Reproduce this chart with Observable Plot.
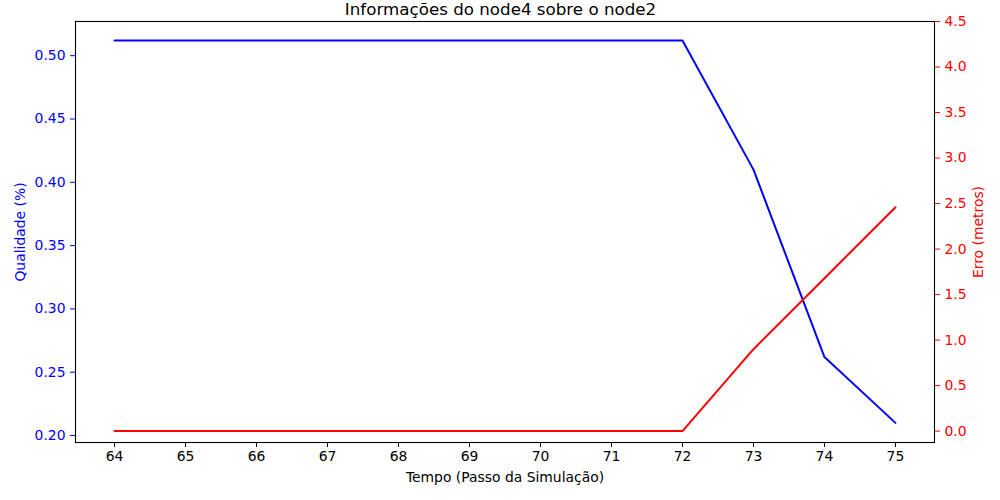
<!DOCTYPE html>
<html>
<head>
<meta charset="utf-8">
<script src="https://cdn.jsdelivr.net/npm/d3@7"></script>
<script src="https://cdn.jsdelivr.net/npm/@observablehq/plot@0.6"></script>
<style>
html,body{margin:0;padding:0;background:#fff;}
svg{font-family:"DejaVu Sans",sans-serif;}
</style>
</head>
<body>
<div id="chart"></div>
<script>
const tempo = [64, 65, 66, 67, 68, 69, 70, 71, 72, 73, 74, 75];
const qualidade = [0.512, 0.512, 0.512, 0.512, 0.512, 0.512, 0.512, 0.512, 0.512, 0.41, 0.262, 0.21];
const erro = [0, 0, 0, 0, 0, 0, 0, 0, 0, 0.9, 1.68, 2.46];
const xTicks = [64, 65, 66, 67, 68, 69, 70, 71, 72, 73, 74, 75];
const leftTicks = [0.20, 0.25, 0.30, 0.35, 0.40, 0.45, 0.50];
const rightTicks = [0.0, 0.5, 1.0, 1.5, 2.0, 2.5, 3.0, 3.5, 4.0, 4.5];

const titleText = "Informações do node4 sobre o node2";
const xLabel = "Tempo (Passo da Simulação)";
const leftLabel = "Qualidade (%)";
const rightLabel = "Erro (metros)";

const yDom = [0.1945, 0.527];
const rDom = [-0.125, 4.5];
const r2y = v => yDom[0] + (v - rDom[0]) * (yDom[1] - yDom[0]) / (rDom[1] - rDom[0]);
const y2r = v => rDom[0] + (v - yDom[0]) * (rDom[1] - rDom[0]) / (yDom[1] - yDom[0]);

const blueData = tempo.map((t, i) => ({t, v: qualidade[i]}));
const redData = tempo.map((t, i) => ({t, v: r2y(erro[i])}));

const fs = 13.9;
const chart = Plot.plot({
  width: 1000,
  height: 500,
  marginLeft: 75,
  marginRight: 66,
  marginTop: 21,
  marginBottom: 58,
  style: {fontFamily: "DejaVu Sans, sans-serif", fontSize: fs + "px", background: "#fff", overflow: "visible"},
  x: {domain: [63.45, 75.55]},
  y: {domain: yDom},
  marks: [
    Plot.axisX(xTicks, {tickSize: 5, tickPadding: 4, tickFormat: d => String(d), fontSize: fs, label: null, stroke: "#000", color: "#000"}),
    Plot.axisY(leftTicks, {anchor: "left", tickSize: 5, tickPadding: 5, tickFormat: d => d.toFixed(2), fontSize: fs, label: null, stroke: "blue", fill: "blue"}),
    Plot.axisY(rightTicks.map(r2y), {anchor: "right", tickSize: 5, tickPadding: 5, tickFormat: d => Math.abs(y2r(d)).toFixed(1), fontSize: fs, label: null, stroke: "red", fill: "red"}),
    Plot.lineY(blueData, {x: "t", y: "v", stroke: "blue", strokeWidth: 2}),
    Plot.lineY(redData, {x: "t", y: "v", stroke: "red", strokeWidth: 2}),
    Plot.frame({stroke: "#000", strokeWidth: 1.1}),
    Plot.text([titleText], {frameAnchor: "top", dx: -4.5, dy: -6.5, lineAnchor: "bottom", textAnchor: "middle", fontSize: 16.7, fill: "#000", text: d => d}),
    Plot.text([xLabel], {frameAnchor: "bottom", dy: 35, lineAnchor: "middle", textAnchor: "middle", fontSize: fs, fill: "#000", text: d => d}),
    Plot.text([leftLabel], {frameAnchor: "left", dx: -55, rotate: -90, lineAnchor: "middle", textAnchor: "middle", fontSize: fs, fill: "blue", text: d => d}),
    Plot.text([rightLabel], {frameAnchor: "right", dx: 44, rotate: -90, lineAnchor: "middle", textAnchor: "middle", fontSize: fs, fill: "red", text: d => d})
  ]
});
document.getElementById("chart").appendChild(chart);
</script>
</body>
</html>
